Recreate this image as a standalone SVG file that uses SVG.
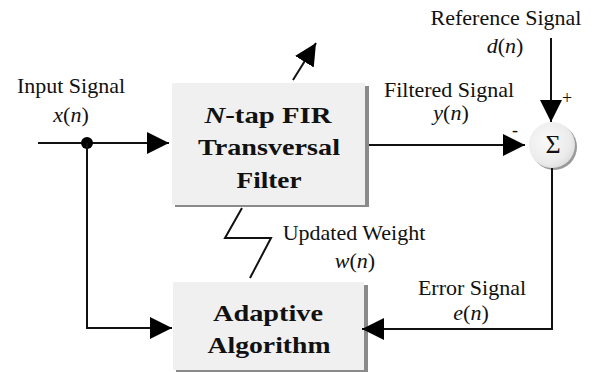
<svg xmlns="http://www.w3.org/2000/svg" width="592" height="372" viewBox="0 0 592 372">
<style>
.lbl{font-family:"Liberation Serif","Times New Roman",serif;font-size:22px;fill:#111;text-anchor:middle}
.it{font-style:italic}
.box{fill:#f0f0f0}
.shadow{fill:#8a8a8a}
.btxt{font-family:"Liberation Serif","Times New Roman",serif;font-size:23px;font-weight:bold;fill:#111;text-anchor:middle}
.wire{fill:none;stroke:#111;stroke-width:2}
.arr{marker-end:url(#ah)}
</style>
<defs>
<marker id="ah" markerUnits="userSpaceOnUse" markerWidth="22" markerHeight="22" refX="22" refY="11" orient="auto">
<path d="M0,0 L22,11 L0,22 Z" fill="#000"/>
</marker>
<radialGradient id="sg" cx="0.4" cy="0.4" r="0.7">
<stop offset="0" stop-color="#fafafa"/>
<stop offset="0.7" stop-color="#ebebeb"/>
<stop offset="1" stop-color="#d8d8d8"/>
</radialGradient>
</defs>
<rect width="592" height="372" fill="#fff"/>

<g id="filter">
<rect class="shadow" x="175" y="86" width="194" height="121"/>
<rect class="box" x="172" y="83" width="193" height="122"/>
<text class="btxt" x="268" y="123" textLength="127" lengthAdjust="spacingAndGlyphs"><tspan font-style="italic">N</tspan>-tap FIR</text>
<text class="btxt" x="269" y="155" textLength="142" lengthAdjust="spacingAndGlyphs">Transversal</text>
<text class="btxt" x="269" y="188" textLength="65" lengthAdjust="spacingAndGlyphs">Filter</text>
</g>

<g id="adaptive">
<rect class="shadow" x="176" y="285" width="192" height="90"/>
<rect class="box" x="173" y="282" width="191" height="88"/>
<text class="btxt" x="268" y="321" textLength="110" lengthAdjust="spacingAndGlyphs">Adaptive</text>
<text class="btxt" x="269" y="353" textLength="123" lengthAdjust="spacingAndGlyphs">Algorithm</text>
</g>

<g id="sum">
<circle cx="554" cy="147" r="23" fill="#9a9a9a"/>
<circle cx="552" cy="145" r="23" fill="url(#sg)"/>
<text class="lbl" x="553" y="153" style="font-size:26px">Σ</text>
<text class="lbl" x="567" y="104" style="font-size:18px">+</text>
<text class="lbl" x="515" y="136" style="font-size:18px">-</text>
</g>

<g id="labels">
<text class="lbl" x="71" y="93">Input Signal</text>
<text class="lbl" x="71" y="122"><tspan class="it">x</tspan>(<tspan class="it">n</tspan>)</text>
<text class="lbl" x="506" y="25">Reference Signal</text>
<text class="lbl" x="505" y="53"><tspan class="it">d</tspan>(<tspan class="it">n</tspan>)</text>
<text class="lbl" x="449" y="97">Filtered Signal</text>
<text class="lbl" x="451" y="120"><tspan class="it">y</tspan>(<tspan class="it">n</tspan>)</text>
<text class="lbl" x="354" y="240">Updated Weight</text>
<text class="lbl" x="355" y="268"><tspan class="it">w</tspan>(<tspan class="it">n</tspan>)</text>
<text class="lbl" x="472" y="295">Error Signal</text>
<text class="lbl" x="471" y="320"><tspan class="it">e</tspan>(<tspan class="it">n</tspan>)</text>
</g>

<g id="connectors">
<path class="wire arr" d="M38,143 L169,143"/>
<circle cx="87" cy="143" r="6" fill="#000"/>
<path class="wire arr" d="M87,143 L87,328 L172,328"/>
<path class="wire arr" d="M369,145 L525,145"/>
<path class="wire arr" d="M551,38 L551,122"/>
<path class="wire arr" d="M552,168 L552,329 L362,329"/>
<path class="wire" d="M242,208 L225,238 L271,238 L250,278"/>
<path class="wire arr" d="M293,80 L316,43"/>
</g>
</svg>
